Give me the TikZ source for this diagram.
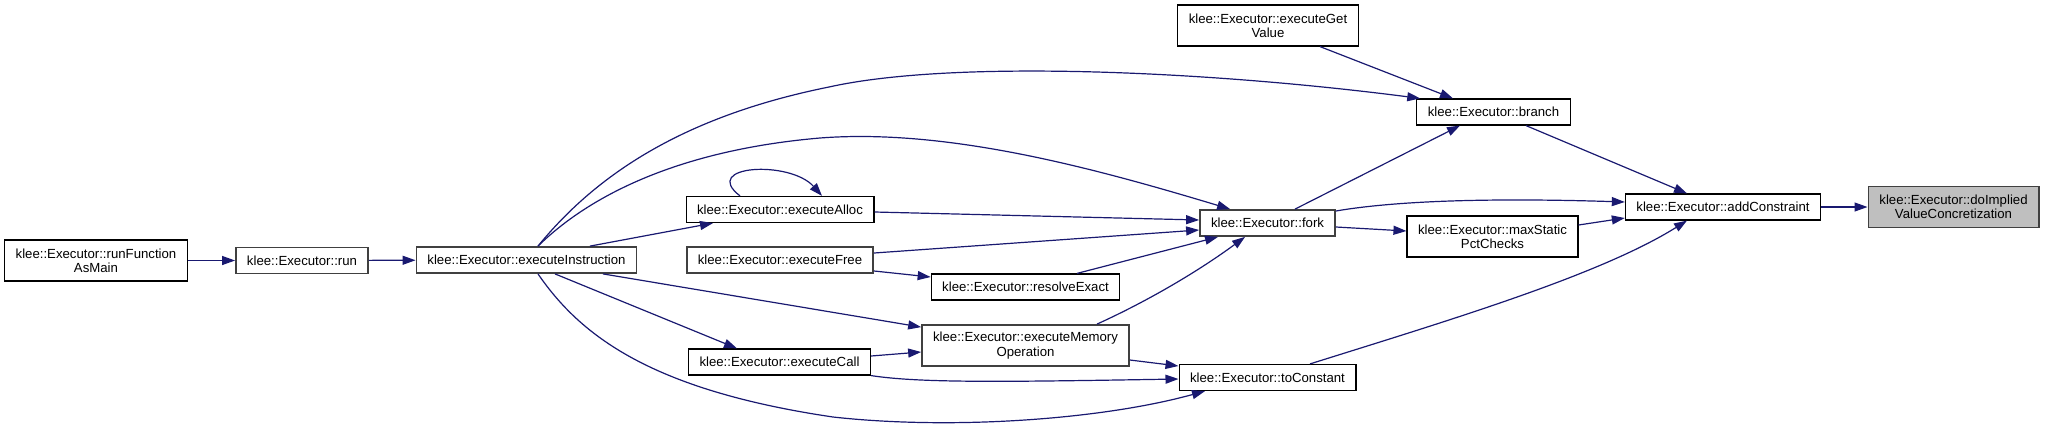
\documentclass[tikz,border=0pt]{standalone}
\usepackage{fontspec}
\setmainfont{Liberation Sans}
\usetikzlibrary{arrows.meta}
\definecolor{edgeblue}{HTML}{191970}
\definecolor{boxgray}{HTML}{404040}
\definecolor{targetfill}{HTML}{BFBFBF}
\tikzset{
    >={Triangle[length=13pt,width=9pt]},
    func/.style={rectangle, draw=black, line width=1.2pt, fill=white, align=center, inner xsep=11pt, inner ysep=7pt, minimum height=26pt, font=\fontsize{13.2}{14.3}\selectfont},
    funcmore/.style={func, draw=boxgray, line width=1.8pt},
    twoline/.style={minimum height=41pt},
    target/.style={func, twoline, draw=boxgray, line width=1.8pt, fill=targetfill},
    call/.style={->, draw=edgeblue, line width=1.2pt}
}

\begin{document}
\begin{tikzpicture}[x=1pt, y=-1pt]
    \useasboundingbox (0,0) rectangle (2047,429);

    % callers, left to right
    \node[func, twoline] (rfam) at (96,260.5) {klee::Executor::runFunction\\AsMain};
    \node[funcmore] (run) at (302,260.5) {klee::Executor::run};
    \node[funcmore] (instr) at (526.5,260) {klee::Executor::executeInstruction};

    \node[func] (alloc) at (780,209.5) {klee::Executor::executeAlloc};
    \node[funcmore] (free) at (780,260) {klee::Executor::executeFree};
    \node[func] (ecall) at (779.5,362) {klee::Executor::executeCall};

    \node[func] (resolve) at (1025.5,287) {klee::Executor::resolveExact};
    \node[funcmore, twoline] (memop) at (1025.5,345.5) {klee::Executor::executeMemory\\Operation};

    \node[func, twoline] (getval) at (1268,25.5) {klee::Executor::executeGet\\Value};
    \node[funcmore] (fork) at (1267.5,223) {klee::Executor::fork};
    \node[func] (tocons) at (1267.5,377.5) {klee::Executor::toConstant};

    \node[func] (branch) at (1493.5,112) {klee::Executor::branch};
    \node[func, twoline] (maxpct) at (1492.5,236.5) {klee::Executor::maxStatic\\PctChecks};

    \node[func] (addc) at (1723,207) {klee::Executor::addConstraint};
    \node[target] (implied) at (1953.5,207) {klee::Executor::doImplied\\ValueConcretization};

    \draw[call] (rfam) -- (run);
    \draw[call] (run) -- (instr);

    % out of executeInstruction
    \draw[call] ([xshift=63.5pt]instr.north) -- ([xshift=-67pt]alloc.south);
    \draw[call] ([xshift=11.5pt]instr.north) .. controls (600,170) and (690,115) .. (829,87)
        .. controls (950,60) and (1200,70) .. ([xshift=4pt]branch.north west);
    \draw[call] ([xshift=11.5pt]instr.north) .. controls (590,195) and (680,150) .. (820,138)
        .. controls (950,128) and (1100,170) .. ([xshift=31pt]fork.north west);
    \draw[call] ([xshift=76.5pt]instr.south) -- ([yshift=-3pt]memop.north west);
    \draw[call] ([xshift=28.5pt]instr.south) -- ([xshift=-42.5pt]ecall.north);
    \draw[call] ([xshift=11.5pt]instr.south) .. controls (580,335) and (650,390) .. (833,417)
        .. controls (950,430) and (1100,420) .. ([xshift=-62.5pt]tocons.south);

    % middle column
    \draw[call] ([xshift=-40pt]alloc.north) .. controls (700,165) and (790,160) .. ([xshift=42pt]alloc.north);
    \draw[call] ([yshift=-2.5pt]alloc.east) -- ([yshift=3pt]fork.west);
    \draw[call] ([yshift=7pt]free.east) -- ([yshift=-7pt]fork.west);
    \draw[call] ([yshift=-11pt]free.east) -- ([yshift=10pt]resolve.west);
    \draw[call] ([xshift=51.5pt]resolve.north) -- ([xshift=-49.5pt]fork.south);
    \draw[call] ([xshift=71.5pt]memop.north) .. controls (1150,300) and (1200,270) .. ([xshift=-22.5pt]fork.south);
    \draw[call] ([yshift=-14.5pt]memop.east) -- ([yshift=11.5pt]tocons.west);
    \draw[call] ([yshift=6pt]ecall.east) -- ([yshift=-6.5pt]memop.west);
    \draw[call] (ecall.south east) .. controls (920,383) and (1000,382) .. ([yshift=-1.5pt]tocons.west);

    % towards addConstraint
    \draw[call] ([xshift=27.5pt]fork.north) -- ([xshift=-33.5pt]branch.south);
    \draw[call] ([xshift=52pt]getval.south) -- ([xshift=-40.5pt]branch.north);
    \draw[call] ([xshift=32.5pt]branch.south) -- ([xshift=-36pt]addc.north);
    \draw[call] ([yshift=12pt]fork.east) .. controls (1400,200) and (1500,198) .. ([yshift=5pt]addc.west);
    \draw[call] ([yshift=-4pt]fork.east) -- ([yshift=5.5pt]maxpct.west);
    \draw[call] ([yshift=11.5pt]maxpct.east) -- ([yshift=-11pt]addc.west);
    \draw[call] ([xshift=42.5pt]tocons.north) .. controls (1450,320) and (1600,275) .. ([xshift=-36pt]addc.south);
    \draw[call] (addc) -- (implied);
\end{tikzpicture}
\end{document}
